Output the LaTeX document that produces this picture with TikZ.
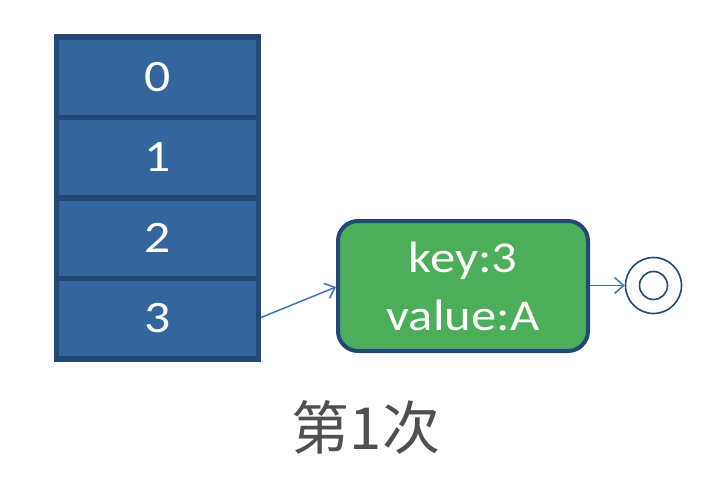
\documentclass[tikz,border=0pt]{standalone}
\usepackage{fontspec}
\usetikzlibrary{arrows.meta}
\newfontfamily\boxfont[FakeStretch=1.15]{Carlito}
\newfontfamily\cjkfont{Noto Sans CJK SC}
\definecolor{cellfill}{HTML}{34669D}
\definecolor{cellline}{HTML}{244876}
\definecolor{greenfill}{HTML}{4CAD5A}
\definecolor{arrowcol}{HTML}{4573B0}
\definecolor{captioncol}{HTML}{505050}
\tikzset{
  cell/.style={draw=cellline, fill=cellfill, line width=5.5pt, minimum width=202pt,
    minimum height=80.5pt, inner sep=0pt, text=white, font=\boxfont\fontsize{45}{50}\selectfont},
  entry/.style={draw=cellline, fill=greenfill, line width=4pt, rounded corners=20pt,
    minimum width=250pt, minimum height=130pt, inner sep=0pt, text=white, align=center,
    font=\boxfont\fontsize{44}{58}\selectfont},
  link/.style={draw=arrowcol, line width=1.5pt, -{Straight Barb[length=9pt,width=16pt]}},
  ring/.style={draw=cellline, line width=1.6pt, circle, inner sep=0pt},
}
\begin{document}
\begin{tikzpicture}[x=1pt,y=-1pt]
\useasboundingbox[fill=white] (0,0) rectangle (718,498);
\node[cell] (c0) at (157.5,77) {0};
\node[cell] (c1) at (157.5,157.5) {1};
\node[cell] (c2) at (157.5,238) {2};
\node[cell] (c3) at (157.5,318.5) {3};
\node[entry] (e) at (463,286) {key:3\\value:A};
\node[ring, minimum size=56pt] (nil) at (653.5,285.5) {};
\node[ring, minimum size=28pt] (nilin) at (653.5,285.5) {};
\coordinate (s) at (261,317.5);
\draw[link] (s) -- (e.west |- 0,287);
\draw[link] (e.east |- 0,285.5) -- (nil.west);
\node[text=captioncol, font=\cjkfont\fontsize{58}{62}\selectfont] (cap) at (366,427) {第1次};
\end{tikzpicture}
\end{document}
